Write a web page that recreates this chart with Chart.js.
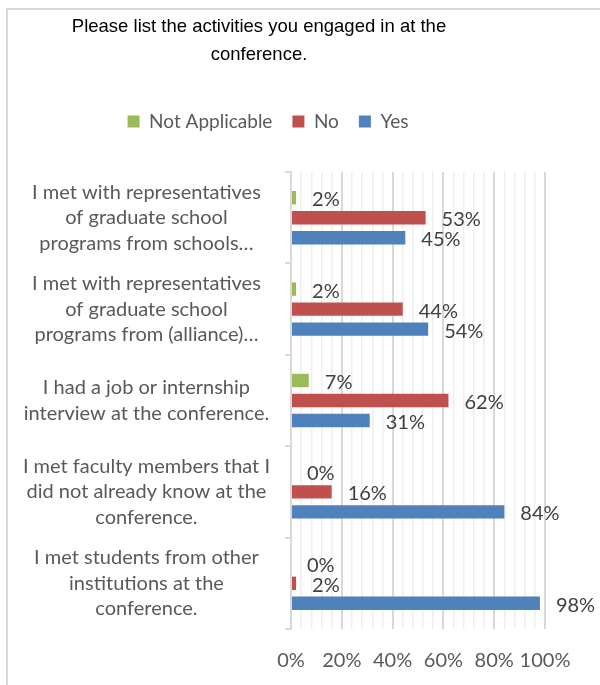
<!DOCTYPE html>
<html>
<head>
<meta charset="utf-8">
<script src="https://cdn.jsdelivr.net/npm/chart.js@4.4.1/dist/chart.umd.min.js"></script>
<style>
  html, body { margin: 0; padding: 0; background: #fff; overflow: hidden; }
  #wrap { position: absolute; left: 0; top: 0; width: 600px; height: 685px; }
  #frame { position: absolute; left: 6px; top: 8px; width: 600px; height: 700px;
           border-left: 2px solid #d9d9d9; border-top: 2px solid #d9d9d9; pointer-events: none; }
</style>
</head>
<body>
<div id="wrap"><canvas id="chart-canvas"></canvas></div>
<div id="frame"></div>
<script>
var categories = [
    ['I met with representatives', 'of graduate school', 'programs from schools…'],
    ['I met with representatives', 'of graduate school', 'programs from (alliance)…'],
    ['I had a job or internship', 'interview at the conference.'],
    ['I met faculty members that I', 'did not already know at the', 'conference.'],
    ['I met students from other', 'institutions at the', 'conference.']
];
var notApplicable = [2, 2, 7, 0, 0];
var no = [53, 44, 62, 16, 2];
var yes = [45, 54, 31, 84, 98];
var tickStep = 4;      // minor gridline every 4%
var labelStep = 20;    // labelled ticks every 20%

var canvas = document.getElementById('chart-canvas');
var ctx = canvas.getContext('2d');
var font = 'Lato';

// put title / legend where they sit in the original
var placeBoxes = {
    id: 'placeBoxes',
    afterLayout: function(chart) {
        var t = chart.titleBlock, l = chart.legend;
        var d = 259 - (t.left + t.right) / 2;
        t.left += d; t.right += d;
        d = 268 - (l.left + l.right) / 2;
        l.left += d; l.right += d;
        var dy = 92 - l.top;
        l.top += dy; l.bottom += dy;
    }
};

// value labels right of each bar
var barLabels = {
    id: 'barLabels',
    afterDatasetsDraw: function(chart) {
        var c = chart.ctx;
        c.save();
        c.font = '20px ' + font;
        c.fillStyle = '#404040';
        c.textAlign = 'left';
        c.textBaseline = 'middle';
        chart.data.datasets.forEach(function(ds, i) {
            chart.getDatasetMeta(i).data.forEach(function(bar, j) {
                c.fillText(ds.data[j] + '%', bar.x + 16, bar.y + 2);
            });
        });
        c.restore();
    }
};

var chart = new Chart(ctx, {
    type: 'bar',
    data: {
        labels: categories,
        datasets: [
            { label: 'Not Applicable', data: notApplicable, backgroundColor: '#9bbb59' },
            { label: 'No', data: no, backgroundColor: '#c0504d' },
            { label: 'Yes', data: yes, backgroundColor: '#4f81bd' }
        ]
    },
    options: {
        indexAxis: 'y',
        responsive: true,
        maintainAspectRatio: false,
        animation: false,
        categoryPercentage: 0.656,
        barPercentage: 0.67,
        layout: { padding: { left: 0, right: 55, top: 0, bottom: 0 } },
        plugins: {
            title: {
                display: true,
                text: ['Please list the activities you engaged in at the', 'conference.'],
                color: '#000',
                font: { family: '"Liberation Sans", Arial', size: 18.5, weight: 'normal', lineHeight: 1.5 },
                padding: { top: 13, bottom: 54.5 }
            },
            legend: {
                display: true,
                labels: {
                    color: '#595959',
                    font: { family: font, size: 19 },
                    boxWidth: 12,
                    boxHeight: 12,
                    padding: 20
                }
            },
            tooltip: { enabled: false }
        },
        scales: {
            x: {
                min: 0,
                max: 100,
                border: { display: false },
                grid: {
                    drawTicks: false,
                    color: function(c) { return c.tick.value % labelStep === 0 ? '#d9d9d9' : '#eeeeee'; },
                    lineWidth: function(c) { return c.tick.value % labelStep === 0 ? 2 : 1.5; }
                },
                ticks: {
                    stepSize: tickStep,
                    autoSkip: false,
                    maxRotation: 0,
                    minRotation: 0,
                    padding: 20,
                    color: '#595959',
                    font: { family: font, size: 20 },
                    callback: function(v) { return v % labelStep === 0 ? v + '%' : ''; }
                },
                afterFit: function(scale) { scale.height = 56; }
            },
            y: {
                border: { display: true, color: '#d9d9d9', width: 2 },
                grid: {
                    offset: true,
                    drawOnChartArea: false,
                    drawTicks: true,
                    tickLength: 6,
                    color: '#d9d9d9',
                    lineWidth: 2
                },
                ticks: {
                    crossAlign: 'center',
                    padding: 15,
                    color: '#595959',
                    font: { family: font, size: 20, lineHeight: 1.275 }
                },
                afterFit: function(scale) { scale.width = 291; }
            }
        }
    },
    plugins: [placeBoxes, barLabels]
});
</script>
</body>
</html>
